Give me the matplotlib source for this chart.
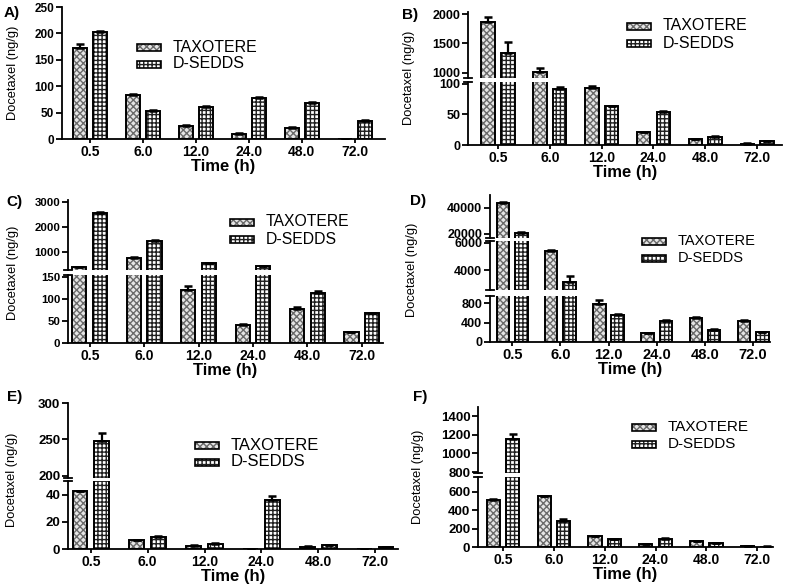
import numpy as np
import matplotlib
matplotlib.use('Agg')
import matplotlib.pyplot as plt
from matplotlib.patches import Rectangle

W, H = 787, 585

times = ['0.5', '6.0', '12.0', '24.0', '48.0', '72.0']

# Tissue levels (ng/g), mean and upper SD
a_tax = [172, 83, 24, 10, 21, 0]
a_tax_sd = [7, 2, 2, 1, 1, 0]
a_sed = [202, 53, 60, 78, 68, 35]
a_sed_sd = [3, 1, 2, 2, 3, 1]

b_tax = [1864, 1020, 93, 21, 9, 2]
b_tax_sd = [86, 65, 3, 1, 1, 0.5]
b_sed = [1340, 91, 63, 54, 13, 6]
b_sed_sd = [185, 4, 1, 1, 1, 0.5]

c_tax = [400, 770, 120, 40, 76, 25]
c_tax_sd = [20, 30, 8, 2, 5, 1]
c_sed = [2550, 1450, 560, 440, 113, 67]
c_sed_sd = [60, 30, 20, 20, 4, 2]

d_tax = [44000, 5400, 790, 180, 490, 440]
d_tax_sd = [700, 100, 70, 10, 15, 20]
d_sed = [21000, 3100, 560, 430, 250, 200]
d_sed_sd = [800, 470, 15, 15, 10, 10]

e_tax = [42.5, 6.5, 2.5, 0.3, 1.8, 0]
e_tax_sd = [0.5, 0.3, 0.2, 0, 0.1, 0]
e_sed = [248, 9, 4, 36, 2.8, 1.5]
e_sed_sd = [11, 0.3, 0.2, 3, 0.2, 0.2]

f_tax = [510, 555, 115, 35, 60, 8]
f_tax_sd = [15, 5, 5, 3, 5, 1]
f_sed = [1160, 280, 85, 90, 40, 5]
f_sed_sd = [50, 25, 5, 5, 3, 1]

plt.rcParams['font.family'] = ['Liberation Sans', 'DejaVu Sans']
plt.rcParams['hatch.linewidth'] = 1.0

TAX_STYLE = dict(facecolor='#e6e6e6', hatch='xxxxx', edgecolor='#6a6a6a')
SED_STYLE = dict(facecolor='white', hatch='++++', edgecolor='#202020')

fig = plt.figure(figsize=(W / 100, H / 100), dpi=100)


def draw_bars(ax, vals, sds, offset, style):
    x = np.arange(len(vals)) + offset
    ax.bar(x, vals, width=0.26, linewidth=0, **style)
    ax.bar(x, vals, width=0.26, fill=False, edgecolor='black', linewidth=1.4)
    ax.errorbar(x, vals, yerr=[np.zeros(len(sds)), sds], fmt='none',
                ecolor='black', elinewidth=1.6, capsize=3, capthick=1.8)


def panel(label, x0, x1, xa, xb, segments, tax, tax_sd, sed, sed_sd,
          leg_x, leg_y, ylab_xy, label_xy, yfs=9, xfs=10, lfs=11.5):
    # segments: list of (ylim, ypix_bottom, ypix_top, ticks), bottom segment first
    for i, (ylim, yb, yt, ticks) in enumerate(segments):
        ax = fig.add_axes([x0 / W, 1 - yb / H, (x1 - x0) / W, (yb - yt) / H])
        draw_bars(ax, tax, tax_sd, -0.19, TAX_STYLE)
        draw_bars(ax, sed, sed_sd, 0.19, SED_STYLE)
        ax.set_xlim(-xa, 5 + xb)
        ax.set_ylim(*ylim)
        ax.set_yticks(ticks)
        ax.set_yticklabels([str(t) for t in ticks], fontsize=yfs, fontweight='bold')
        for s in ['top', 'right']:
            ax.spines[s].set_visible(False)
        ax.spines['left'].set_linewidth(1.3)
        ax.spines['bottom'].set_linewidth(1.3)
        ax.tick_params(axis='y', length=4, width=1.3, pad=1.5)
        ax.patch.set_alpha(0)
        if i == 0:
            ax.set_xticks(range(len(times)))
            ax.set_xticklabels(times, fontsize=xfs, fontweight='bold')
            ax.tick_params(axis='x', length=3, width=1.3, pad=1)
            ax.set_xlabel('Time (h)', fontsize=12, fontweight='bold', labelpad=0)
        else:
            ax.spines['bottom'].set_visible(False)
            ax.set_xticks([])
        # break marks on the spine
        dx = 4 / (x1 - x0)
        if i < len(segments) - 1:
            ax.plot([-dx, dx], [1, 1], transform=ax.transAxes, color='black',
                    linewidth=1.3, clip_on=False)
        if i > 0:
            ax.plot([-dx, dx], [0, 0], transform=ax.transAxes, color='black',
                    linewidth=1.3, clip_on=False)

    # legend
    for k, (name, style) in enumerate([('TAXOTERE', TAX_STYLE), ('D-SEDDS', SED_STYLE)]):
        yc = leg_y + k * 17
        fig.add_artist(Rectangle((leg_x / W, 1 - (yc + 3.5) / H), 24 / W, 7 / H,
                                 transform=fig.transFigure, linewidth=0, **style))
        fig.add_artist(Rectangle((leg_x / W, 1 - (yc + 3.5) / H), 24 / W, 7 / H,
                                 transform=fig.transFigure, fill=False,
                                 edgecolor='black', linewidth=1.2))
        fig.text((leg_x + 36) / W, 1 - yc / H, name, fontsize=lfs, va='center')

    fig.text(ylab_xy[0] / W, 1 - ylab_xy[1] / H, 'Docetaxel (ng/g)', rotation=90,
             ha='center', va='center', fontsize=9.3)
    fig.text(label_xy[0] / W, 1 - label_xy[1] / H, label, fontsize=11,
             fontweight='bold', va='center')


panel('A)', 62, 385, 0.53, 0.57,
      [((0, 250), 139, 7, [0, 50, 100, 150, 200, 250])],
      a_tax, a_tax_sd, a_sed, a_sed_sd, 137, 47, (13, 73), (4, 13), yfs=8.5)

panel('B)', 468, 782, 0.58, 0.48,
      [((0, 103), 145, 82, [0, 50, 100]),
       ((915, 2034), 78, 12, [1000, 1500, 2000])],
      b_tax, b_tax_sd, b_sed, b_sed_sd, 627, 26, (409, 78), (402, 15), yfs=9)

panel('C)', 68, 383, 0.40, 0.39,
      [((0, 154), 343, 275, [0, 50, 100, 150]),
       ((280, 3080), 270, 200, [1000, 2000, 3000])],
      c_tax, c_tax_sd, c_sed, c_sed_sd, 230, 222, (13, 273), (6, 202),
      yfs=8.2, lfs=11.3)

panel('D)', 490, 770, 0.46, 0.35,
      [((0, 944), 342, 296, [0, 400, 800]),
       ((2519, 6148), 290, 241, [4000, 6000]),
       ((16923, 50000), 238, 195, [20000, 40000])],
      d_tax, d_tax_sd, d_sed, d_sed_sd, 642, 241, (412, 270), (410, 201),
      yfs=9, xfs=10.5, lfs=10.5)

panel('E)', 68, 398, 0.40, 0.40,
      [((0, 50), 549, 481, [0, 20, 40]),
       ((197, 300), 478, 403, [200, 250, 300])],
      e_tax, e_tax_sd, e_sed, e_sed_sd, 195, 445, (12, 480), (7, 397),
      yfs=9.5, lfs=12)

panel('F)', 478, 773, 0.49, 0.31,
      [((0, 763), 547, 477, [0, 200, 400, 600]),
       ((790, 1500), 473, 407, [800, 1000, 1200, 1400])],
      f_tax, f_tax_sd, f_sed, f_sed_sd, 632, 427, (418, 477), (413, 397),
      yfs=9.5, lfs=11)

fig.savefig('out.png', dpi=100)
